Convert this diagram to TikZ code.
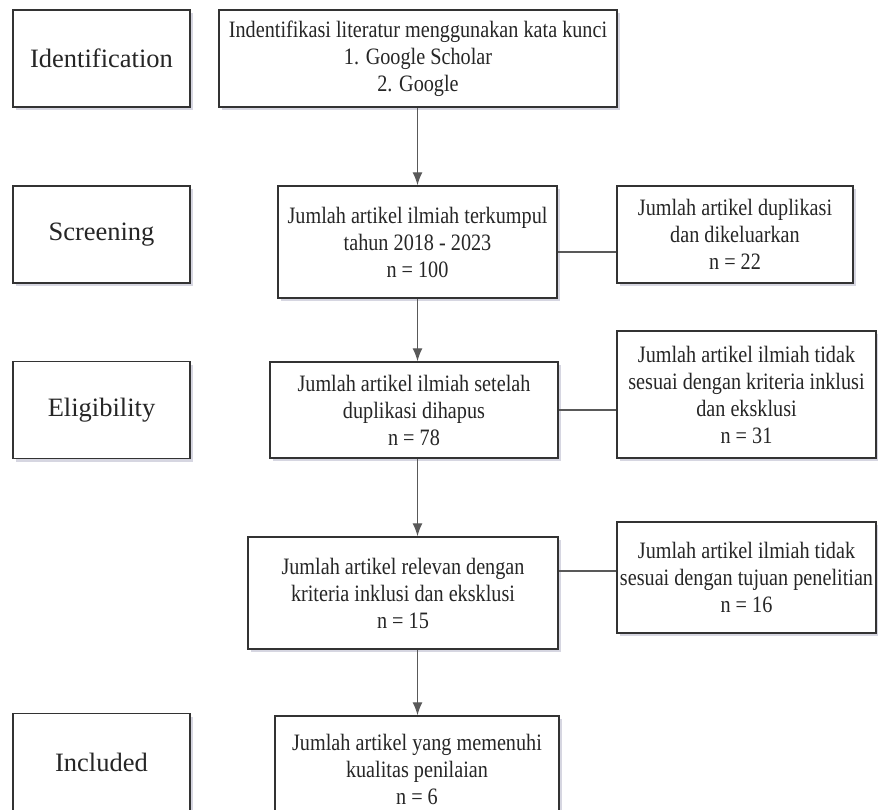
\documentclass[tikz,border=0pt]{standalone}
\usepackage{fontspec}
\setmainfont{Liberation Serif}
\newfontfamily\tallserif[FakeStretch=0.86]{Liberation Serif}
\usetikzlibrary{positioning,shapes,arrows.meta,shadows}

\begin{document}
\begin{tikzpicture}[
  x=1pt, y=-1pt,
  box/.style={draw=black!80, line width=1.5pt, fill=white, align=center,
    inner sep=0pt, text=black!85,
    drop shadow={shadow xshift=3pt, shadow yshift=-3pt, opacity=0.4, fill=blue!15!gray!70},
    font=\tallserif\fontsize{23.5}{27}\selectfont},
  phase/.style={box, font=\fontsize{26.5}{30}\selectfont,
    minimum width=177pt, minimum height=97pt},
  flow/.style={draw=black!65, line width=1.3pt},
  arr/.style={flow, -{Latex[length=13pt,width=10pt]}}
]
\useasboundingbox (0,0) rectangle (878,809);

\node[phase] (idl) at (101.5,58.5) {Identification};
\node[phase] (scl) at (101.5,234.5) {Screening};
\node[phase] (ell) at (101.5,410) {Eligibility};
\node[phase] (inl) at (101.5,762) {Included};

\node[box,minimum width=398pt,minimum height=97pt] (ident) at (418,58.5)
  {Indentifikasi literatur menggunakan kata kunci\\1. Google Scholar\\2. Google};
\node[box,minimum width=279pt,minimum height=112pt] (screen) at (417.5,242)
  {Jumlah artikel ilmiah terkumpul\\tahun 2018 - 2023\\n = 100};
\node[box,minimum width=288pt,minimum height=96pt] (elig) at (414,410)
  {Jumlah artikel ilmiah setelah\\duplikasi dihapus\\n = 78};
\node[box,minimum width=310pt,minimum height=112pt] (rel) at (403,593)
  {Jumlah artikel relevan dengan\\kriteria inklusi dan eksklusi\\n = 15};
\node[box,minimum width=284pt,minimum height=106pt] (incl) at (417,769)
  {Jumlah artikel yang memenuhi\\kualitas penilaian\\n = 6};

\node[box,minimum width=236pt,minimum height=97pt] (dup) at (735,234.5)
  {Jumlah artikel duplikasi\\dan dikeluarkan\\n = 22};
\node[box,minimum width=259pt,minimum height=127pt] (krit) at (746.5,394.5)
  {Jumlah artikel ilmiah tidak\\sesuai dengan kriteria inklusi\\dan eksklusi\\n = 31};
\node[box,minimum width=259pt,minimum height=111pt] (tuj) at (746.5,577.5)
  {Jumlah artikel ilmiah tidak\\sesuai dengan tujuan penelitian\\n = 16};

\draw[arr] (ident.south -| screen.south) -- (screen.north);
\draw[arr] (screen.south) -- (screen.south |- elig.north);
\draw[arr] (screen.south |- elig.south) -- (screen.south |- rel.north);
\draw[arr] (screen.south |- rel.south) -- (screen.south |- incl.north);

\draw[flow] ([yshift=-10pt]screen.east) -- ([yshift=-10pt]screen.east -| dup.west);
\draw[flow] (elig.east) -- (elig.east -| krit.west);
\draw[flow] ([yshift=22pt]rel.east) -- ([yshift=22pt]rel.east -| tuj.west);
\end{tikzpicture}
\end{document}
